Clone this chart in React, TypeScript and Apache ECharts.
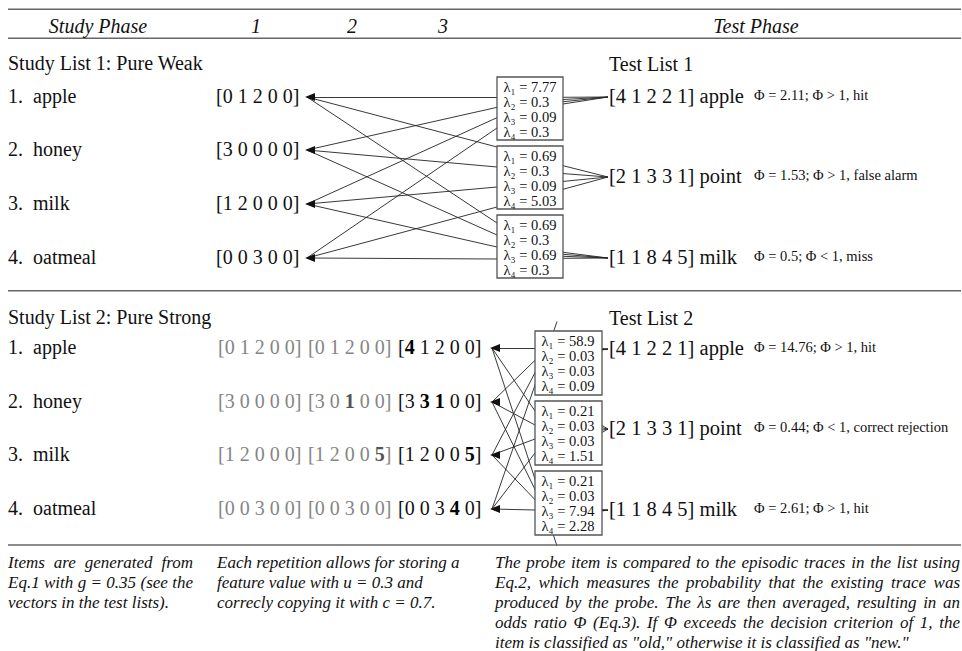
import React, { useEffect, useRef } from 'react';
import * as echarts from 'echarts';

const W = 962;
const H = 651;
const SERIF = "'Liberation Serif', 'Times New Roman', Times, serif";

// ---------- data ----------
const headerLabels = ['Study Phase', '1', '2', '3', 'Test Phase'];
const studyItems = ['apple', 'honey', 'milk', 'oatmeal'];
const listTitles = ['Study List 1: Pure Weak', 'Study List 2: Pure Strong'];
const testTitles = ['Test List 1', 'Test List 2'];
const weakTraces = [
  [0, 1, 2, 0, 0],
  [3, 0, 0, 0, 0],
  [1, 2, 0, 0, 0],
  [0, 0, 3, 0, 0],
];
const strongTraces = [
  [[0, 1, 2, 0, 0], [0, 1, 2, 0, 0], [4, 1, 2, 0, 0]],
  [[3, 0, 0, 0, 0], [3, 0, 1, 0, 0], [3, 3, 1, 0, 0]],
  [[1, 2, 0, 0, 0], [1, 2, 0, 0, 5], [1, 2, 0, 0, 5]],
  [[0, 0, 3, 0, 0], [0, 0, 3, 0, 0], [0, 0, 3, 4, 0]],
];
const probeWords = ['apple', 'point', 'milk'];
const probeVectors = [
  [4, 1, 2, 2, 1],
  [2, 1, 3, 3, 1],
  [1, 1, 8, 4, 5],
];
const lambdasWeak = [
  [7.77, 0.3, 0.09, 0.3],
  [0.69, 0.3, 0.09, 5.03],
  [0.69, 0.3, 0.69, 0.3],
];
const lambdasStrong = [
  [58.9, 0.03, 0.03, 0.09],
  [0.21, 0.03, 0.03, 1.51],
  [0.21, 0.03, 7.94, 2.28],
];
const phiWeak = [2.11, 1.53, 0.5];
const phiStrong = [14.76, 0.44, 2.61];
const decisionsWeak = ['hit', 'false alarm', 'miss'];
const decisionsStrong = ['hit', 'correct rejection', 'hit'];
const noteCol1 = ['Items are generated from', 'Eq.1 with g = 0.35 (see the', 'vectors in the test lists).'];
const noteCol2 = ['Each repetition allows for storing a', 'feature value with u = 0.3 and', 'correcly copying it with c = 0.7.'];
const noteCol3 = [
  'The probe item is compared to the episodic traces in the list using',
  'Eq.2, which measures the probability that the existing trace was',
  'produced by the probe. The λs are then averaged, resulting in an',
  'odds ratio Φ (Eq.3). If Φ exceeds the decision criterion of 1, the',
  'item is classified as "old," otherwise it is classified as "new."',
];
const SUBS = ['₁', '₂', '₃', '₄'];

// ---------- layout ----------
const sections = [
  {
    titleY: 63, rows: [97, 150, 204, 258], vecXs: [216], tipX: 305,
    boxX: 497, boxW: 66, boxH: 63, boxTops: [77, 146, 215],
    ports: [[20, 51], [1, 61], [8, 44]], ext: 0,
    probeYs: [97, 177, 258], fans: [[97.3, 104], [165.7, 189.3], [252.3, 258.3]],
    lamStart: 9.5, lamStep: 15.3,
    traces: weakTraces.map((t) => [t]), lambdas: lambdasWeak, phi: phiWeak, decisions: decisionsWeak,
  },
  {
    titleY: 317, rows: [348, 402, 455, 509], vecXs: [218, 308, 398], tipX: 490,
    boxX: 535, boxW: 67, boxH: 64, boxTops: [331, 401, 471],
    ports: [[17, 54], [10, 52], [8, 39]], ext: 22,
    probeYs: [349, 429, 510], fans: [[348.5, 350], [425.5, 432.5], [509.5, 511]],
    lamStart: 9.5, lamStep: 15,
    traces: strongTraces, lambdas: lambdasStrong, phi: phiStrong, decisions: decisionsStrong,
  },
];
const RULES = [9.3, 38.3, 290.7, 545];
const PROBE_X = 609;
const PHI_X = 754;

function measure(text: string, font: string): number {
  const c = document.createElement('canvas').getContext('2d')!;
  c.font = font;
  return c.measureText(text).width;
}

function buildOption() {
  const g: any[] = [];
  const txt = (x: number, y: number, text: string, o: any = {}) => {
    const align = o.align || 'left';
    g.push({
      type: 'text', x, y, z: 20, silent: true,
      style: {
        text, fontFamily: SERIF, fontSize: o.fontSize || 20, fill: o.fill || '#111',
        fontStyle: o.fontStyle || 'normal', fontWeight: o.fontWeight || 'normal',
        align, textAlign: align, verticalAlign: 'middle', textVerticalAlign: 'middle',
      },
    });
  };

  // rules
  RULES.forEach((y) =>
    g.push({ type: 'line', z: 20, silent: true, shape: { x1: 8, y1: y, x2: 961, y2: y }, style: { stroke: '#666', lineWidth: 1.5 } })
  );

  // header
  txt(98, 26, headerLabels[0], { align: 'center', fontStyle: 'italic' });
  txt(256, 26, headerLabels[1], { align: 'center', fontStyle: 'italic' });
  txt(352, 26, headerLabels[2], { align: 'center', fontStyle: 'italic' });
  txt(443, 26, headerLabels[3], { align: 'center', fontStyle: 'italic' });
  txt(756, 26, headerLabels[4], { align: 'center', fontStyle: 'italic' });

  const lineData: any[] = [];
  const arrowData: any[] = [];

  sections.forEach((s, si) => {
    txt(8, s.titleY, listTitles[si]);
    txt(PROBE_X, s.titleY + 1, testTitles[si]);

    studyItems.forEach((item, i) => {
      const y = s.rows[i] - 1.5;
      txt(8, y, `${i + 1}.`);
      txt(33, y, item);
      const reps = s.traces[i];
      const nReps = reps.length;
      reps.forEach((vec, r) => {
        const grey = nReps > 1 && r < nReps - 1;
        const base = reps[0];
        const br = grey ? 'g' : 'k';
        let rich = `{${br}|[}`;
        vec.forEach((d, k) => {
          const bold = nReps > 1 && d !== base[k];
          const st = (grey ? 'g' : 'k') + (bold ? 'b' : '');
          rich += `{${st}|${d}}`;
          if (k < vec.length - 1) rich += `{${br}| }`;
        });
        rich += `{${br}|]}`;
        g.push({
          type: 'text', x: s.vecXs[r], y, z: 20, silent: true,
          style: {
            text: rich, align: 'left', textAlign: 'left', verticalAlign: 'middle', textVerticalAlign: 'middle',
            fontFamily: SERIF, fontSize: 20,
            rich: {
              g: { fill: '#858585', fontFamily: SERIF, fontSize: 20 },
              gb: { fill: '#555', fontFamily: SERIF, fontSize: 20, fontWeight: 'bold' },
              k: { fill: '#111', fontFamily: SERIF, fontSize: 20 },
              kb: { fill: '#000', fontFamily: SERIF, fontSize: 20, fontWeight: 'bold' },
            },
          },
        });
      });
      // arrowhead
      arrowData.push([s.tipX + 5, s.rows[i]]);
      // connectors to the boxes
      s.boxTops.forEach((top, b) => {
        const [p0, p1] = s.ports[b];
        const py = top + p0 + ((p1 - p0) * i) / 3;
        const x0 = s.tipX + 2;
        const y0 = s.rows[i];
        const dx = s.boxX - x0;
        const dy = py - y0;
        const ex = s.boxX + s.ext;
        const ey = py + (dy / dx) * s.ext;
        lineData.push({ coords: [[x0, y0], [ex, ey]] });
      });
    });

    // boxes with lambdas
    s.boxTops.forEach((top, b) => {
      g.push({
        type: 'rect', z: 15, silent: true,
        shape: { x: s.boxX, y: top, width: s.boxW, height: s.boxH },
        style: { fill: '#fff', stroke: '#555', lineWidth: 1.3 },
      });
      s.lambdas[b].forEach((v, j) => {
        txt(s.boxX + 6.5, top + s.lamStart + j * s.lamStep, `λ${SUBS[j]} = ${v}`, { fontSize: 14.5 });
      });
      // fan from box to probe
      const [f0, f1] = s.fans[b];
      for (let j = 0; j < 4; j++) {
        const fy = f0 + ((f1 - f0) * j) / 3;
        lineData.push({ coords: [[s.boxX + s.boxW, fy], [PROBE_X - 1, s.probeYs[b]]] });
      }
      // probe text & phi
      const py = s.probeYs[b];
      txt(PROBE_X, py - 1.5, `[${probeVectors[b].join(' ')}] ${probeWords[b]}`, { fontSize: 20.5 });
      const ph = s.phi[b];
      txt(PHI_X, py - 2, `Φ = ${ph}; Φ ${ph > 1 ? '>' : '<'} 1, ${s.decisions[b]}`, { fontSize: 14.5 });
    });
  });

  // notes (italic, partly justified)
  const NOTE_FS = 17;
  const noteFont = `italic ${NOTE_FS}px ${SERIF}`;
  const noteYs = [562, 582, 602, 622, 642];
  const justify = (line: string, x0: number, x1: number, y: number) => {
    const words = line.split(' ');
    const ws = words.map((w) => measure(w, noteFont));
    const total = ws.reduce((a, b) => a + b, 0);
    const gap = Math.max(2, (x1 - x0 - total) / (words.length - 1));
    let x = x0;
    words.forEach((w, k) => {
      txt(x, y, w, { fontStyle: 'italic', fontSize: NOTE_FS });
      x += ws[k] + gap;
    });
  };
  noteCol1.forEach((l, k) => {
    if (k < noteCol1.length - 1) justify(l, 8, 193, noteYs[k]);
    else txt(8, noteYs[k], l, { fontStyle: 'italic', fontSize: NOTE_FS });
  });
  noteCol2.forEach((l, k) => txt(217, noteYs[k], l, { fontStyle: 'italic', fontSize: NOTE_FS }));
  noteCol3.forEach((l, k) => {
    if (k < noteCol3.length - 1) justify(l, 495, 960, noteYs[k]);
    else txt(495, noteYs[k], l, { fontStyle: 'italic', fontSize: NOTE_FS });
  });

  return {
    animation: false,
    backgroundColor: '#fff',
    grid: { left: 0, right: 0, top: 0, bottom: 0, containLabel: false },
    xAxis: { type: 'value', min: 0, max: W, show: false },
    yAxis: { type: 'value', min: 0, max: H, inverse: true, show: false },
    graphic: { elements: g },
    series: [
      {
        type: 'lines', coordinateSystem: 'cartesian2d', silent: true, z: 2,
        lineStyle: { color: '#222', width: 0.9, opacity: 1 },
        data: lineData,
      },
      {
        type: 'scatter', silent: true, z: 3, symbol: 'triangle', symbolSize: [8, 10], symbolRotate: 90,
        itemStyle: { color: '#111', opacity: 1 },
        data: arrowData,
      },
    ],
  };
}

export default function App() {
  const ref = useRef<HTMLDivElement>(null);
  useEffect(() => {
    const chart = echarts.init(ref.current!, null, { renderer: 'svg' });
    chart.setOption(buildOption() as any);
    return () => chart.dispose();
  }, []);
  return (
    <div
      ref={ref}
      style={{ position: 'fixed', left: 0, top: 0, width: W, height: H, background: '#fff' }}
    />
  );
}
